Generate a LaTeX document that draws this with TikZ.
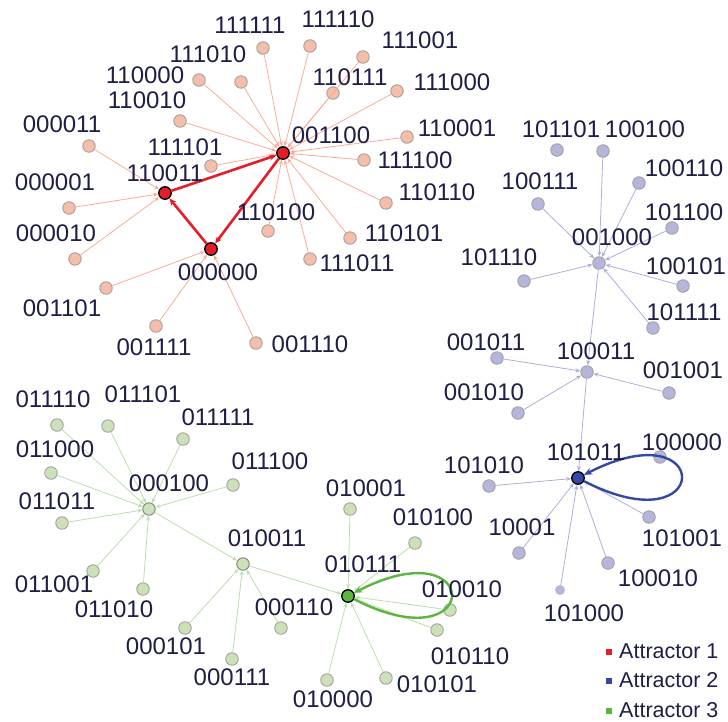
\documentclass[tikz,border=0pt]{standalone}
\usepackage{fontspec}
\setmainfont{Liberation Sans}
\usetikzlibrary{arrows.meta}
\definecolor{txt}{RGB}{30,30,70}
\definecolor{rleaffill}{RGB}{245,190,168}
\definecolor{bleaffill}{RGB}{180,182,220}
\definecolor{gleaffill}{RGB}{205,225,185}
\definecolor{leafborder}{RGB}{165,160,160}
\definecolor{redge}{RGB}{248,172,152}
\definecolor{bedge}{RGB}{172,174,222}
\definecolor{gedge}{RGB}{188,222,172}
\definecolor{attred}{RGB}{228,30,40}
\definecolor{attblue}{RGB}{52,72,165}
\definecolor{attgreen}{RGB}{92,182,62}
\tikzset{
  leaf/.style={circle,minimum size=12.5pt,inner sep=0pt,draw=leafborder,line width=0.9pt},
  rleaf/.style={leaf,fill=rleaffill},
  bleaf/.style={leaf,fill=bleaffill},
  gleaf/.style={leaf,fill=gleaffill},
  attr/.style={circle,minimum size=12.5pt,inner sep=0pt,draw=black,line width=1.3pt},
  lbl/.style={inner sep=0pt,text=txt,font=\fontsize{24}{24}\selectfont},
  leg/.style={inner sep=0pt,text=txt,font=\fontsize{21.5}{22}\selectfont,anchor=west},
  thinarrow/.style={line width=0.8pt,-{Stealth[length=5pt,width=4pt]}},
  redg/.style={thinarrow,draw=redge},
  bedg/.style={thinarrow,draw=bedge},
  gedg/.style={thinarrow,draw=gedge},
  cyc/.style={line width=2.6pt,draw=attred,-{Stealth[length=7pt,width=6pt]}},
  bloop/.style={line width=2.4pt,draw=attblue,-{Stealth[length=8pt,width=7pt]}},
  gloop/.style={line width=2.4pt,draw=attgreen,-{Stealth[length=8pt,width=7pt]}},
}
\begin{document}
\begin{tikzpicture}[x=1pt,y=-1pt]
\useasboundingbox (0,0) rectangle (728,721);
% ---------------- Red cluster ----------------
\node[rleaf] (r111111) at (263,48) {};
\node[rleaf] (r111110) at (310,46) {};
\node[rleaf] (r111010) at (241,82) {};
\node[rleaf] (r111001) at (363,57) {};
\node[rleaf] (r110000) at (199,80) {};
\node[rleaf] (r110111) at (333,93) {};
\node[rleaf] (r111000) at (397,91) {};
\node[rleaf] (r110010) at (180,121) {};
\node[rleaf] (r000011) at (89,146) {};
\node[rleaf] (r110001) at (407,137) {};
\node[rleaf] (r111101) at (211,166) {};
\node[rleaf] (r111100) at (364,160) {};
\node[rleaf] (r000001) at (69,208) {};
\node[rleaf] (r110110) at (386,203) {};
\node[rleaf] (r000010) at (75,259) {};
\node[rleaf] (r110100) at (268,231) {};
\node[rleaf] (r110101) at (350,238) {};
\node[rleaf] (r111011) at (310,259) {};
\node[rleaf] (r001101) at (106,288) {};
\node[rleaf] (r001111) at (156,326) {};
\node[rleaf] (r001110) at (256,343) {};
\node[attr,fill=attred] (r001100) at (283,153) {};
\node[attr,fill=attred] (r110011) at (165,193) {};
\node[attr,fill=attred] (r000000) at (211,249) {};
\foreach \s in {111111,111110,111010,111001,110000,110111,111000,110010,110001,111101,111100,110110,110100,110101,111011}
  \draw[redg] (r\s) -- (r001100);
\foreach \s in {000011,000001,000010}
  \draw[redg] (r\s) -- (r110011);
\foreach \s in {001101,001111,001110}
  \draw[redg] (r\s) -- (r000000);
\draw[cyc] (r001100) -- (r000000);
\draw[cyc] (r000000) -- (r110011);
\draw[cyc] (r110011) -- (r001100);
% labels
\node[lbl] (lr111111) at (250,25) {111111};
\node[lbl] (lr111110) at (338,19) {111110};
\node[lbl] (lr111001) at (420,40) {111001};
\node[lbl] (lr111010) at (208,54) {111010};
\node[lbl] (lr110000) at (145,75) {110000};
\node[lbl] (lr110111) at (350,77) {110111};
\node[lbl] (lr111000) at (452,82) {111000};
\node[lbl] (lr110010) at (147,100) {110010};
\node[lbl] (lr000011) at (62,124) {000011};
\node[lbl] (lr110001) at (457,128) {110001};
\node[lbl] (lr001100) at (331,135) {001100};
\node[lbl] (lr111101) at (185,147) {111101};
\node[lbl] (lr111100) at (415,160) {111100};
\node[lbl] (lr110011) at (165,173) {110011};
\node[lbl] (lr000001) at (55,182) {000001};
\node[lbl] (lr110110) at (437,192) {110110};
\node[lbl] (lr110100) at (276,212) {110100};
\node[lbl] (lr000010) at (56,233) {000010};
\node[lbl] (lr110101) at (404,233) {110101};
\node[lbl] (lr111011) at (357,263) {111011};
\node[lbl] (lr000000) at (218,272) {000000};
\node[lbl] (lr001101) at (62,308) {001101};
\node[lbl] (lr001111) at (154,347) {001111};
\node[lbl] (lr001110) at (310,344) {001110};
% ---------------- Blue cluster ----------------
\node[bleaf] (b101101) at (557,150) {};
\node[bleaf] (b100100) at (603,151) {};
\node[bleaf] (b100110) at (639,183) {};
\node[bleaf] (b100111) at (538,204) {};
\node[bleaf] (b101100) at (672,228) {};
\node[bleaf] (b101110) at (524,281) {};
\node[bleaf] (b100101) at (683,286) {};
\node[bleaf] (b101111) at (653,328) {};
\node[bleaf] (b001000) at (599,263) {};
\node[bleaf] (b001011) at (497,358) {};
\node[bleaf] (b001001) at (669,393) {};
\node[bleaf] (b001010) at (518,413) {};
\node[bleaf] (b100011) at (587,372) {};
\node[bleaf] (b100000) at (660,457) {};
\node[bleaf] (b101010) at (489,486) {};
\node[bleaf] (b101001) at (649,517) {};
\node[bleaf] (b10001) at (519,553) {};
\node[bleaf] (b100010) at (608,563) {};
\node[bleaf,minimum size=9pt,draw=bleaffill] (b101000) at (560,590) {};
\node[attr,fill=attblue] (b101011) at (578,478) {};
\foreach \s in {100100,100110,100111,101100,101110,100101,101111}
  \draw[bedg] (b\s) -- (b001000);
\foreach \s in {001011,001001,001010}
  \draw[bedg] (b\s) -- (b100011);
\draw[bedg] (b001000) -- (b100011);
\draw[bedg] (b100011) -- (b101011);
\foreach \s in {101010,101001,10001,100010,101000}
  \draw[bedg] (b\s) -- (b101011);
\draw[bloop] (b101011) .. controls (714,548) and (714,408) .. (b101011);
\node[lbl] (lb101101) at (561,129) {101101};
\node[lbl] (lb100100) at (645,129) {100100};
\node[lbl] (lb100110) at (684,168) {100110};
\node[lbl] (lb100111) at (540,181) {100111};
\node[lbl] (lb101100) at (684,212) {101100};
\node[lbl] (lb001000) at (612,237) {001000};
\node[lbl] (lb101110) at (499,257) {101110};
\node[lbl] (lb100101) at (686,266) {100101};
\node[lbl] (lb101111) at (684,312) {101111};
\node[lbl] (lb001011) at (486,342) {001011};
\node[lbl] (lb100011) at (596,351) {100011};
\node[lbl] (lb001001) at (683,370) {001001};
\node[lbl] (lb001010) at (484,392) {001010};
\node[lbl] (lb101011) at (586,452) {101011};
\node[lbl] (lb100000) at (682,442) {100000};
\node[lbl] (lb101010) at (484,465) {101010};
\node[lbl] (lb10001) at (522,527) {10001};
\node[lbl] (lb101001) at (682,538) {101001};
\node[lbl] (lb100010) at (658,578) {100010};
\node[lbl] (lb101000) at (584,613) {101000};
% ---------------- Green cluster ----------------
\node[gleaf] (g011110) at (57,425) {};
\node[gleaf] (g011101) at (108,426) {};
\node[gleaf] (g011111) at (183,439) {};
\node[gleaf] (g011000) at (51,473) {};
\node[gleaf] (g011100) at (233,485) {};
\node[gleaf] (g011011) at (62,523) {};
\node[gleaf] (g011001) at (93,571) {};
\node[gleaf] (g011010) at (143,589) {};
\node[gleaf,draw=gray] (g000100) at (149,509) {};
\node[gleaf,draw=gray] (g010011) at (243,564) {};
\node[gleaf] (g000101) at (185,628) {};
\node[gleaf] (g000111) at (232,659) {};
\node[gleaf] (g000110) at (281,628) {};
\node[gleaf] (g010001) at (350,509) {};
\node[gleaf] (g010100) at (415,543) {};
\node[gleaf] (g010010) at (450,610) {};
\node[gleaf] (g010110) at (437,630) {};
\node[gleaf] (g010000) at (327,680) {};
\node[gleaf] (g010101) at (386,678) {};
\node[attr,fill=attgreen] (g010111) at (348,596) {};
\foreach \s in {011110,011101,011111,011000,011100,011011,011001,011010}
  \draw[gedg] (g\s) -- (g000100);
\draw[gedg] (g000100) -- (g010011);
\foreach \s in {000101,000111,000110}
  \draw[gedg] (g\s) -- (g010011);
\draw[gedg] (g010011) -- (g010111);
\foreach \s in {010001,010100,010010,010110,010000,010101}
  \draw[gedg] (g\s) -- (g010111);
\draw[gloop] (g010111) .. controls (484,666) and (484,526) .. (g010111);
\node[lbl] (lg011110) at (53,399) {011110};
\node[lbl] (lg011101) at (143,394) {011101};
\node[lbl] (lg011111) at (218,417) {011111};
\node[lbl] (lg011000) at (55,449) {011000};
\node[lbl] (lg011100) at (270,461) {011100};
\node[lbl] (lg000100) at (169,483) {000100};
\node[lbl] (lg011011) at (57,501) {011011};
\node[lbl] (lg010001) at (366,488) {010001};
\node[lbl] (lg010100) at (433,517) {010100};
\node[lbl] (lg010011) at (267,538) {010011};
\node[lbl] (lg010111) at (363,564) {010111};
\node[lbl] (lg011001) at (54,584) {011001};
\node[lbl] (lg011010) at (114,609) {011010};
\node[lbl] (lg000110) at (294,607) {000110};
\node[lbl] (lg010010) at (462,589) {010010};
\node[lbl] (lg000101) at (166,646) {000101};
\node[lbl] (lg000111) at (232,677) {000111};
\node[lbl] (lg010110) at (470,656) {010110};
\node[lbl] (lg010000) at (333,699) {010000};
\node[lbl] (lg010101) at (437,684) {010101};
% ---------------- Legend ----------------
\node[fill=attred,minimum size=6pt,inner sep=0pt] (k1) at (609,652) {};
\node[fill=attblue,minimum size=6pt,inner sep=0pt] (k2) at (609,681) {};
\node[fill=attgreen,minimum size=6pt,inner sep=0pt] (k3) at (609,711) {};
\node[leg] (t1) at (619,651) {Attractor 1};
\node[leg] (t2) at (619,680) {Attractor 2};
\node[leg] (t3) at (619,710) {Attractor 3};
\end{tikzpicture}
\end{document}
